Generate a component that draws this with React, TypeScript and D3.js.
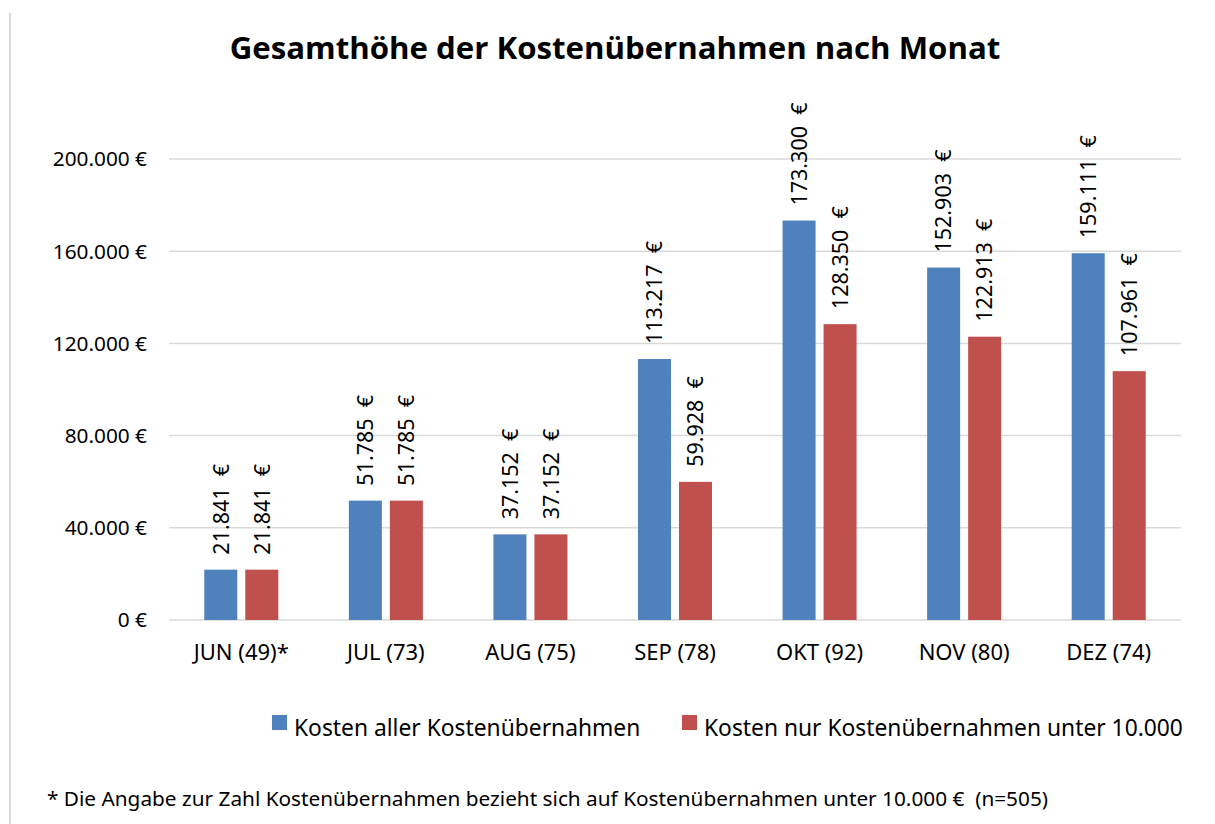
import React from "react";
import * as d3 from "d3";

const categories = ["JUN (49)*", "JUL (73)", "AUG (75)", "SEP (78)", "OKT (92)", "NOV (80)", "DEZ (74)"];
const seriesNames = ["Kosten aller Kostenübernahmen", "Kosten nur Kostenübernahmen unter 10.000"];
const allCosts = [21841, 51785, 37152, 113217, 173300, 152903, 159111];
const underCosts = [21841, 51785, 37152, 59928, 128350, 122913, 107961];
const yTicks = [0, 40000, 80000, 120000, 160000, 200000];
const colors = ["#4F81BD", "#C0504D"];

const title = "Gesamthöhe der Kostenübernahmen nach Monat";
const footnote = "* Die Angabe zur Zahl Kostenübernahmen bezieht sich auf Kostenübernahmen unter 10.000 €  (n=505)";

const font = "'Noto Sans', 'DejaVu Sans', sans-serif";

const fmt = (v: number) => d3.format(",")(v).replace(/,/g, ".");

const App = () => {
  const width = 1215;
  const height = 824;
  const plot = { left: 169, right: 1181, top: 159, bottom: 620 };

  // scales
  const x0 = d3.scaleBand<string>().domain(categories).range([plot.left, plot.right]);
  const x1 = d3
    .scaleBand<number>()
    .domain([0, 1])
    .range([x0.bandwidth() / 2 - 37, x0.bandwidth() / 2 + 37])
    .paddingInner(0.195);
  const y = d3.scaleLinear().domain([0, 200000]).range([plot.bottom, plot.top]);

  const series = [allCosts, underCosts];

  return (
    <svg width={width} height={height} style={{ display: "block", position: "absolute", left: 0, top: 0 }}>
      <rect x={0} y={0} width={width} height={height} fill="#fff" />
      <line x1={10} y1={13} x2={10} y2={height} stroke="#D9D9D9" strokeWidth={2} />

      <text
        x={615}
        y={59}
        textAnchor="middle"
        fontFamily="'Open Sans', 'Noto Sans', sans-serif"
        fontWeight="bold"
        fontSize={31.2}
        fill="#000"
      >
        {title}
      </text>

      {/* gridlines and y axis labels */}
      {yTicks.map((t) => (
        <g key={t}>
          <line x1={plot.left} x2={plot.right} y1={y(t)} y2={y(t)} stroke="#D9D9D9" strokeWidth={1.5} />
          <text
            x={147}
            y={y(t)}
            dy="0.36em"
            textAnchor="end"
            fontFamily={font}
            fontSize={20.8}
            fill="#000"
          >
            {fmt(t) + " €"}
          </text>
        </g>
      ))}

      {/* bars */}
      {categories.map((c, i) => (
        <g key={c} transform={`translate(${x0(c)},0)`}>
          {series.map((s, j) => {
            const bx = x1(j) as number;
            const bw = x1.bandwidth();
            const top = y(s[i]);
            return (
              <g key={j}>
                <rect x={bx} y={top} width={bw} height={plot.bottom - top} fill={colors[j]} />
                <text
                  transform={`translate(${bx + bw / 2},${top - 15}) rotate(-90)`}
                  dy="0.36em"
                  fontFamily={font}
                  fontSize={21.5}
                  fill="#000"
                  style={{ whiteSpace: "pre" }}
                >
                  {fmt(s[i]) + "  €"}
                </text>
              </g>
            );
          })}
          <text
            x={x0.bandwidth() / 2}
            y={660}
            textAnchor="middle"
            fontFamily={font}
            fontSize={22}
            fill="#000"
          >
            {c}
          </text>
        </g>
      ))}

      {/* legend */}
      {seriesNames.map((n, j) => {
        const lx = j === 0 ? 272 : 682;
        return (
          <g key={n}>
            <rect x={lx} y={715} width={15} height={15} fill={colors[j]} />
            <text x={lx + 22} y={736} fontFamily={font} fontSize={22.8} fill="#000">
              {n}
            </text>
          </g>
        );
      })}

      <text
        x={47}
        y={806}
        fontFamily={font}
        fontSize={19}
        textLength={1001}
        lengthAdjust="spacingAndGlyphs"
        fill="#000"
        style={{ whiteSpace: "pre" }}
      >
        {footnote}
      </text>
    </svg>
  );
};

export default App;
